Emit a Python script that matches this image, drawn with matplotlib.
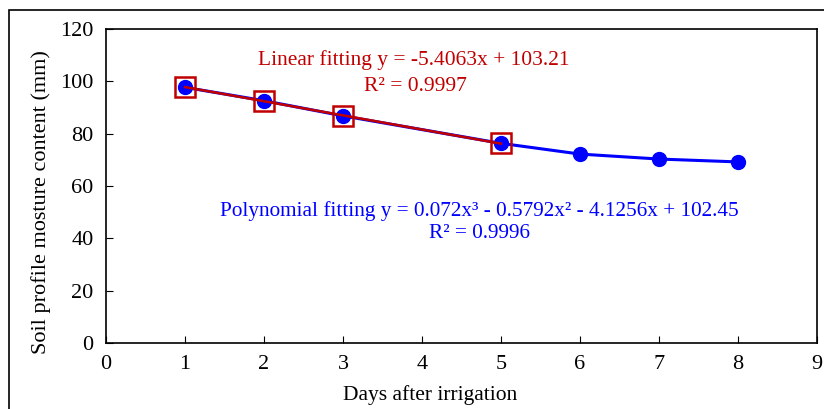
import numpy as np
import matplotlib.pyplot as plt
from matplotlib.patches import Rectangle

plt.rcParams['font.family'] = ['Liberation Serif', 'DejaVu Serif']

# Data
days = [1, 2, 3, 5, 6, 7, 8]
moisture = [97.7, 92.6, 86.8, 76.3, 72.2, 70.3, 69.2]
lin_days = [1, 2, 3, 5]
lin_moisture = [97.7, 92.6, 86.8, 76.3]
lin_coef = [-5.4063, 103.21]

fig = plt.figure(figsize=(8.24, 4.09), dpi=100)
ax = fig.add_axes([0.1286, 0.1614, 0.8629, 0.7677])

# outer chart border
fig.patches.append(Rectangle((0.011, -0.05), 1.2, 1.025, transform=fig.transFigure,
                             fill=False, edgecolor='black', linewidth=1.2))

ax.plot(days, moisture, color='#0000FF', linewidth=2.2, marker='o',
        markersize=10, zorder=3)
ax.plot(lin_days, lin_moisture, linestyle='none', marker='s', markersize=14,
        markerfacecolor='none', markeredgecolor='#C00000', markeredgewidth=1.8, zorder=4)
xl = np.array([lin_days[0], lin_days[-1]])
ax.plot(xl, np.polyval(lin_coef, xl), color='#C00000', linewidth=1.8, zorder=5)

ax.text(3.9, 108, 'Linear fitting y = -5.4063x + 103.21', color='#C00000',
        fontsize=15.5, ha='center', va='center')
ax.text(3.92, 98, 'R² = 0.9997', color='#C00000', fontsize=15.5, ha='center', va='center')
ax.text(4.73, 50.5, 'Polynomial fitting y = 0.072x³ - 0.5792x² - 4.1256x + 102.45',
        color='#0000FF', fontsize=15.3, ha='center', va='center')
ax.text(4.73, 42, 'R² = 0.9996', color='#0000FF', fontsize=15.3, ha='center', va='center')

ax.set_xlim(0, 9)
ax.set_ylim(0, 120)
ax.set_xticks(range(0, 10))
ax.set_yticks(range(0, 121, 20))
ax.tick_params(direction='in', length=5, labelsize=16, pad=9)
for s in ax.spines.values():
    s.set_linewidth(1.2)
ax.set_xlabel('Days after irrigation', fontsize=15.5)
ax.set_ylabel('Soil profile mosture content (mm)', fontsize=16)
ax.xaxis.set_label_coords(0.456, -0.133)
ax.yaxis.set_label_coords(-0.078, 0.449)

fig.savefig('out.png', dpi=100)
